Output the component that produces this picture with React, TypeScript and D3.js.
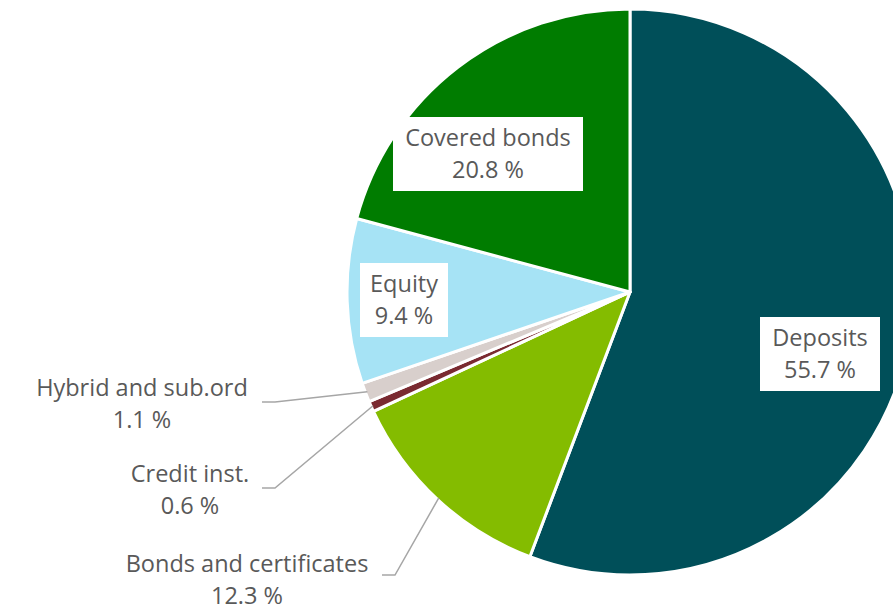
import React from "react";
import * as d3 from "d3";

const categories = ["Deposits", "Bonds and certificates", "Credit inst.", "Hybrid and sub.ord", "Equity", "Covered bonds"];
const values = [55.7, 12.3, 0.6, 1.1, 9.4, 20.8];
const colors = ["#004F59", "#84BC00", "#7A2A31", "#D8CFCC", "#A6E3F5", "#007C00"];

// layout: inside labels (box centre) or outside labels (text centre + elbow)
const inside: Record<string, { cx: number; cy: number; w: number }> = {
  "Deposits": { cx: 820, cy: 354, w: 120 },
  "Equity": { cx: 404, cy: 300, w: 88 },
  "Covered bonds": { cx: 488, cy: 154, w: 190 },
};
const outside: Record<string, { tx: number; ty: number; ex: number; ey: number }> = {
  "Hybrid and sub.ord": { tx: 142, ty: 404, ex: 262, ey: 402 },
  "Credit inst.": { tx: 190, ty: 490, ex: 262, ey: 488 },
  "Bonds and certificates": { tx: 247, ty: 580, ex: 382, ey: 575 },
};

const W = 893, H = 607;
const cx = 630, cy = 292, R = 283;
const FONT = "'Open Sans', sans-serif";
const TXT = "#595959";
const FS = 23.5;

export default function App() {
  const data = categories.map((c, i) => ({ c, v: values[i], col: colors[i] }));
  const pie = d3.pie<any>().value((d: any) => d.v).sort(null).startAngle(0).endAngle(2 * Math.PI);
  const arcs = pie(data);
  const arc = d3.arc<any>().innerRadius(0).outerRadius(R);
  const edge = d3.arc<any>().innerRadius(R - 2).outerRadius(R - 2);
  const fmt = (v: number) => `${v.toFixed(1)} %`;
  return (
    <svg width={W} height={H} style={{ position: "absolute", left: 0, top: 0, background: "#fff" }}>
      <g transform={`translate(${cx},${cy})`}>
        {arcs.map((a, i) => (
          <path key={i} d={arc(a) as string} fill={a.data.col} stroke="#fff" strokeWidth={3} strokeLinejoin="round" />
        ))}
      </g>
      {arcs.map((a, i) => {
        const o = outside[a.data.c];
        if (!o) return null;
        const [px, py] = edge.centroid(a);
        return (
          <polyline key={"l" + i} points={`${o.ex},${o.ey} ${o.ex + 13},${o.ey} ${cx + px},${cy + py}`}
            fill="none" stroke="#A6A6A6" strokeWidth={1.5} />
        );
      })}
      {arcs.map((a, i) => {
        const b = inside[a.data.c];
        if (!b) return null;
        return (
          <g key={"b" + i}>
            <rect x={b.cx - b.w / 2} y={b.cy - 37} width={b.w} height={74} fill="#fff" />
            <text x={b.cx} y={b.cy - 8} textAnchor="middle" fontFamily={FONT} fontSize={FS} fill={TXT}>{a.data.c}</text>
            <text x={b.cx} y={b.cy + 24} textAnchor="middle" fontFamily={FONT} fontSize={FS} fill={TXT}>{fmt(a.data.v)}</text>
          </g>
        );
      })}
      {arcs.map((a, i) => {
        const o = outside[a.data.c];
        if (!o) return null;
        return (
          <g key={"o" + i}>
            <text x={o.tx} y={o.ty - 8} textAnchor="middle" fontFamily={FONT} fontSize={FS} fill={TXT}>{a.data.c}</text>
            <text x={o.tx} y={o.ty + 24} textAnchor="middle" fontFamily={FONT} fontSize={FS} fill={TXT}>{fmt(a.data.v)}</text>
          </g>
        );
      })}
    </svg>
  );
}
